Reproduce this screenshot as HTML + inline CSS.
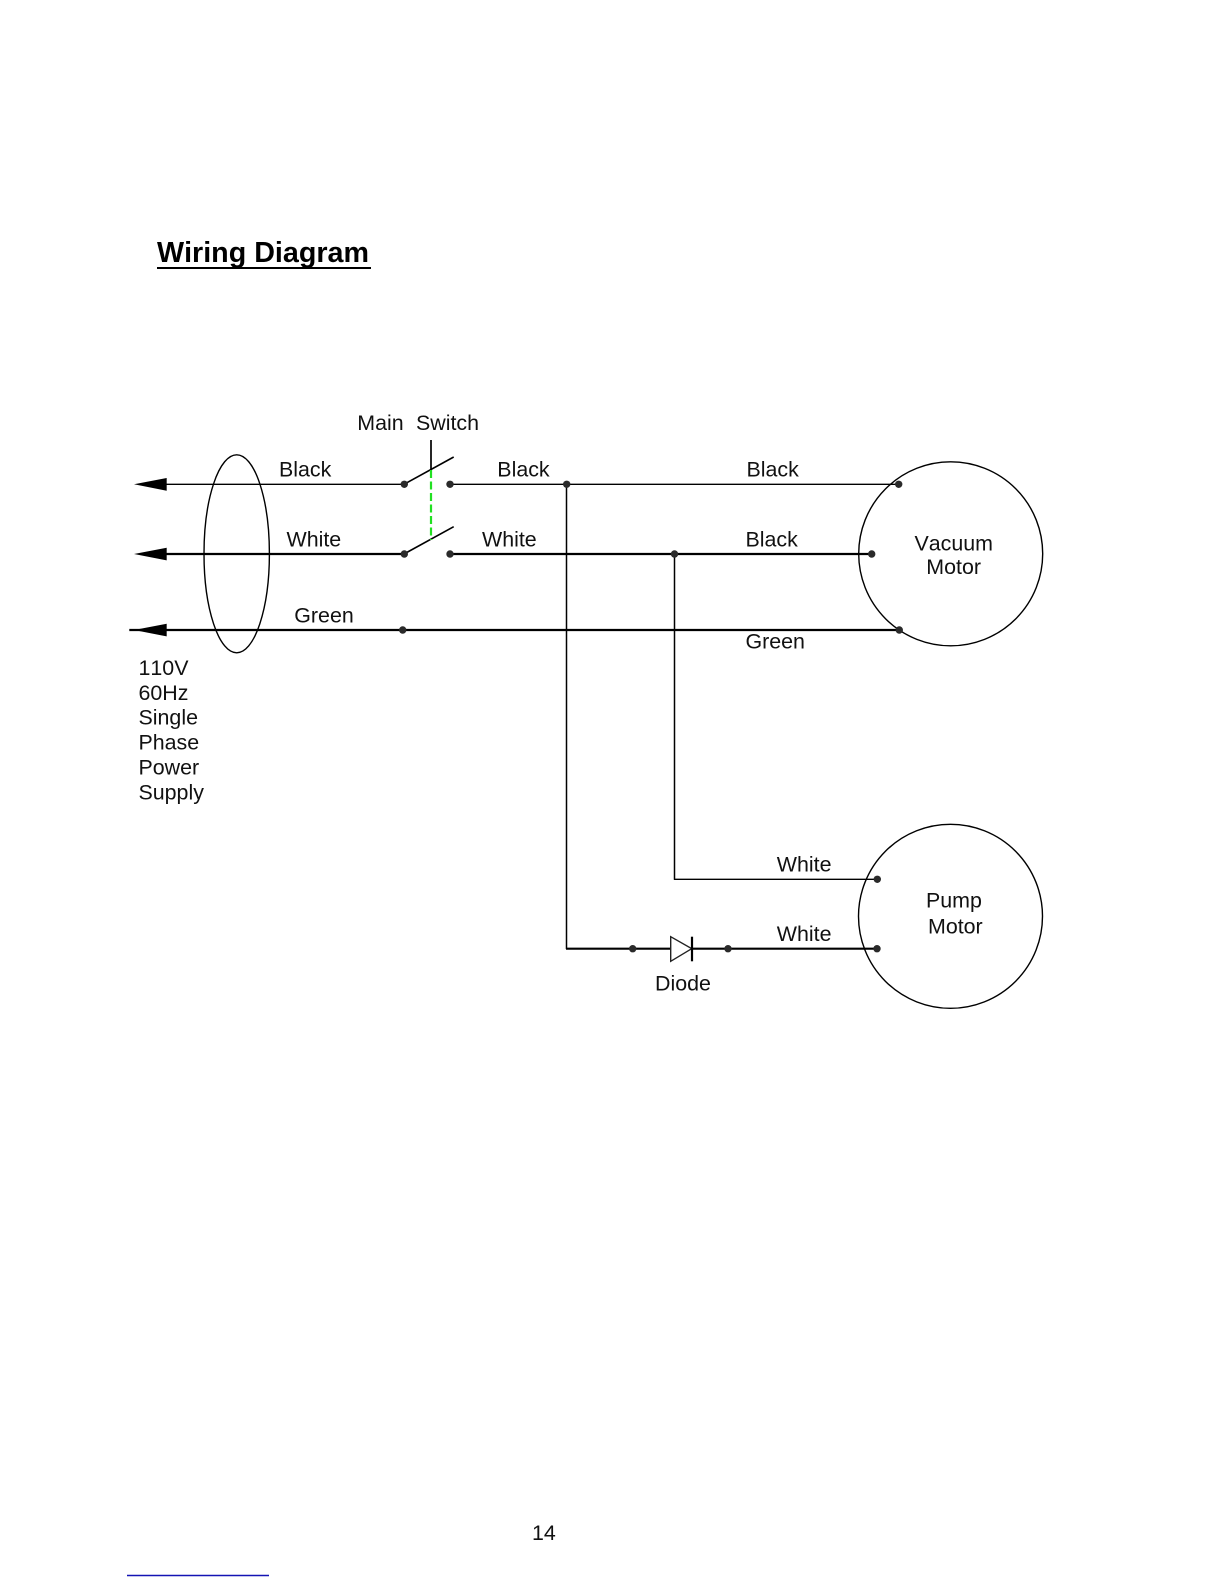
<!DOCTYPE html>
<html><head><meta charset="utf-8"><style>
html,body{margin:0;padding:0;background:#fff}
svg{display:block}
text{font-family:"Liberation Sans",Arial,sans-serif;font-size:21.4px;fill:#111;font-kerning:none}
</style></head><body>
<svg width="1224" height="1584" viewBox="0 0 1224 1584" xmlns="http://www.w3.org/2000/svg">
<rect width="1224" height="1584" fill="#fff"/>
<text x="157" y="262" textLength="212" lengthAdjust="spacingAndGlyphs" style="font-size:28.8px;font-weight:bold;fill:#000">Wiring Diagram</text>
<line x1="157" y1="268" x2="371" y2="268" stroke="#000" stroke-width="2"/>
<g fill="none" stroke="#000" stroke-width="1.400">
<ellipse cx="236.700" cy="553.800" rx="32.700" ry="99"/>
<circle cx="950.700" cy="553.800" r="92"/>
<circle cx="950.500" cy="916.300" r="92"/>
<line x1="166" y1="484.300" x2="404" y2="484.300"/>
<line x1="166" y1="554" x2="404" y2="554" stroke-width="2.200"/>
<line x1="129.300" y1="630" x2="899" y2="630" stroke-width="2.200"/>
<line x1="450" y1="484.300" x2="899" y2="484.300"/>
<line x1="450" y1="554" x2="872" y2="554" stroke-width="2.200"/>
<line x1="404" y1="484.300" x2="453.700" y2="457" stroke-width="1.600"/>
<line x1="404" y1="554" x2="453.700" y2="526.700" stroke-width="1.600"/>
<line x1="431" y1="440" x2="431" y2="470" stroke-width="1.700"/>
<line x1="566.500" y1="484" x2="566.500" y2="949" stroke-width="1.500"/>
<line x1="674.500" y1="554" x2="674.500" y2="879.800" stroke-width="1.500"/>
<line x1="674" y1="879.300" x2="877" y2="879.300"/>
<line x1="566" y1="948.700" x2="671" y2="948.700" stroke-width="2.200"/>
<line x1="692" y1="948.700" x2="877" y2="948.700" stroke-width="2.200"/>
<polygon points="670.700,936.700 691.700,948.700 670.700,961.300" stroke="#222"/>
<line x1="692" y1="936.700" x2="692" y2="961.300" stroke-width="2.200"/>
</g>
<line x1="431" y1="470" x2="431" y2="540" stroke="#22e022" stroke-width="2.200" stroke-dasharray="8 3.500"/>
<g fill="#000">
<polygon points="134,484.300 166.700,478 166.700,490.800"/>
<polygon points="134,554 166.700,547.700 166.700,560.400"/>
<polygon points="134,630 166.700,623.700 166.700,636.400"/>
</g>
<g fill="#2a2a2a">
<circle cx="404.300" cy="484.300" r="3.700"/><circle cx="450" cy="484.300" r="3.700"/>
<circle cx="404.300" cy="554" r="3.700"/><circle cx="450" cy="554" r="3.700"/>
<circle cx="402.700" cy="630" r="3.700"/><circle cx="566.700" cy="484.300" r="3.700"/>
<circle cx="674.500" cy="554" r="3.700"/><circle cx="898.700" cy="484.300" r="3.700"/>
<circle cx="871.700" cy="554" r="3.700"/><circle cx="899.300" cy="630" r="3.700"/>
<circle cx="877.300" cy="879.300" r="3.700"/><circle cx="877" cy="948.700" r="3.700"/>
<circle cx="632.700" cy="948.700" r="3.700"/><circle cx="728" cy="948.700" r="3.700"/>
</g>
<text x="357.300" y="430">Main</text><text x="416" y="430">Switch</text>
<text x="279" y="476.700">Black</text><text x="497.300" y="476.700">Black</text><text x="746.500" y="476.700">Black</text>
<text x="286.500" y="546.700">White</text><text x="482" y="546.700">White</text><text x="745.500" y="546.700">Black</text>
<text x="294.300" y="622.700">Green</text><text x="745.500" y="648.700">Green</text>
<text x="138.500" y="675">110V</text><text x="138.500" y="700">60Hz</text><text x="138.500" y="724.500">Single</text>
<text x="138.500" y="749.500">Phase</text><text x="138.500" y="774.500">Power</text><text x="138.500" y="799.500">Supply</text>
<text x="914.500" y="550.300">Vacuum</text><text x="926.300" y="574">Motor</text>
<text x="926" y="907.700">Pump</text><text x="928" y="933.300">Motor</text>
<text x="776.800" y="871.700">White</text><text x="776.800" y="941">White</text>
<text x="655" y="990.700">Diode</text>
<text x="532" y="1540">14</text>
<line x1="127" y1="1575.500" x2="269" y2="1575.500" stroke="#1414b4" stroke-width="1.400"/>
</svg>
</body></html>
